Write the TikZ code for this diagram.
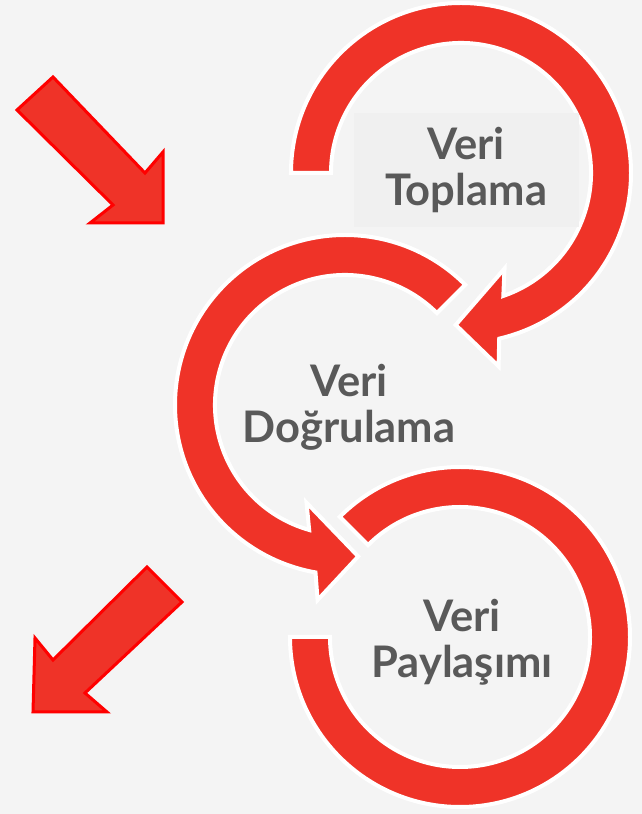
\documentclass[tikz,border=0pt]{standalone}
\usepackage{fontspec}
\setmainfont{Lato}
\usepackage{tikz}

\definecolor{bggray}{HTML}{F4F4F4}
\definecolor{boxgray}{HTML}{F0F0F0}
\definecolor{ringred}{HTML}{EF3328}
\definecolor{textgray}{HTML}{595959}

\begin{document}
\begin{tikzpicture}[x=1pt,y=1pt,
  ring/.style={fill=ringred,draw=white,line width=4pt},
  bigarrow/.style={fill=ringred,draw=red,line width=3pt},
  label/.style={align=center,text=textgray,inner sep=0pt,
    font=\fontsize{43.5}{46}\selectfont\bfseries}]
\fill[color=bggray] (0,0) rectangle (642,814);
\useasboundingbox (0,0) rectangle (642,814);

% ring 3
\begin{scope}[shift={(460,177)}]
\path[ring] (180:170) arc[start angle=180,end angle=495,radius=170]
  -- (495:130) arc[start angle=495,end angle=180,radius=130] -- cycle;
\end{scope}

% ring 2
\begin{scope}[shift={(345,409)}]
\path[ring] (45:170) arc[start angle=45,end angle=260,radius=170]
  -- (262:197) -- (275:152) -- (248.5:105) -- (254:130)
  arc[start angle=254,end angle=45,radius=130] -- cycle;
\end{scope}

% ring 1
\begin{scope}[shift={(461,641)}]
\path[ring] (180:170) arc[start angle=180,end angle=-77,radius=170]
  -- (-79:197) -- (-92:152) -- (-65.5:105) -- (-71:130)
  arc[start angle=-71,end angle=180,radius=130] -- cycle;
\end{scope}

\node[label,fill=boxgray,minimum width=225,minimum height=114] (toplama) at (466,644) {Veri\\Toplama};
\node[label] (dogrulama) at (349,407) {Veri\\Doğrulama};
\node[label] (paylasim) at (462,172) {Veri\\Paylaşımı};

\path[bigarrow] (53,737) -- (145,641) -- (163,662) -- (163,591)
  -- (90,591) -- (113,609) -- (17,704) -- cycle;
\path[bigarrow] (147,247) -- (182,212) -- (85,121) -- (107,102)
  -- (33,102) -- (35,176) -- (53,154) -- cycle;
\end{tikzpicture}
\end{document}
